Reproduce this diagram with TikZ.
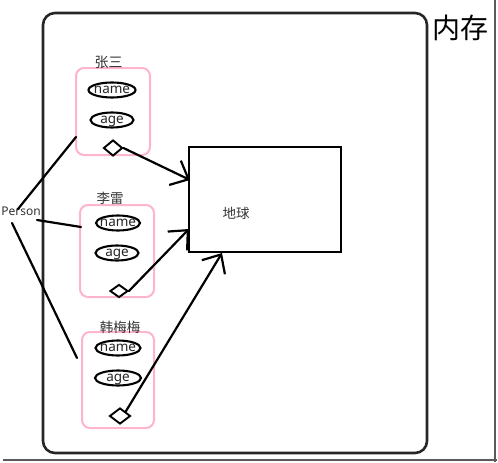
\documentclass[tikz,border=0pt]{standalone}
\usepackage{fontspec}
\setmainfont{Noto Sans}
\newfontfamily\cjk{Noto Sans CJK SC}
\usetikzlibrary{shapes.geometric,arrows.meta}
\definecolor{pinkline}{RGB}{255,180,205}
\definecolor{shadowgray}{RGB}{90,90,90}
\newcommand\ztxt[1]{\makebox[0pt]{\smash{\raisebox{-.55ex}{#1}}}}
\tikzset{
  memory/.style={draw=black!85, line width=2.6pt, rounded corners=12pt, minimum width=384pt, minimum height=440pt, inner sep=0pt},
  objbox/.style={draw=pinkline, line width=2pt, rounded corners=8pt, inner sep=0pt},
  field/.style={ellipse, draw, line width=2.1pt, inner sep=0pt, font=\fontsize{13.5pt}{15pt}\selectfont, text=black!85},
  agg/.style={diamond, draw, line width=1.9pt, inner sep=0pt, fill=white},
  earthbox/.style={draw, line width=2.3pt, minimum width=152pt, minimum height=105pt, inner sep=0pt},
  cjklabel/.style={font=\cjk\fontsize{13.5pt}{15pt}\selectfont, text=black!80, inner sep=0pt},
  conn/.style={line width=2.2pt, line cap=round},
  ref/.style={conn, -{Straight Barb[length=15pt,width=27pt,line width=2.2pt]}},
}
\begin{document}
\begin{tikzpicture}[x=1pt,y=-1pt]
\useasboundingbox (0,0) rectangle (498,463);
% screenshot shadow edges
\draw[shadowgray, line width=2.5pt] (495,0) -- (495,462);
\draw[shadowgray, line width=2.5pt] (3,460) -- (497,460);
% memory frame
\node[memory] (mem) at (235,233) {};
\node[font=\cjk\fontsize{28pt}{30pt}\selectfont, inner sep=0pt] (memlabel) at (460,28) {内存};
% person 1
\node[objbox, minimum width=74pt, minimum height=87pt] (b1) at (113,111.5) {};
\node[cjklabel, font=\cjk\fontsize{14pt}{15pt}\selectfont] (l1) at (108.5,62) {张三};
\node[field, minimum width=47pt, minimum height=15pt] (n1) at (112,90) {\ztxt{name}};
\node[field, minimum width=43pt, minimum height=15pt] (a1) at (112,120) {\ztxt{age}};
\node[agg, minimum width=19pt, minimum height=16pt] (d1) at (113,148) {};
% person 2
\node[objbox, minimum width=74pt, minimum height=92pt] (b2) at (117,251) {};
\node[cjklabel] (l2) at (110,198) {李雷};
\node[field, minimum width=44pt, minimum height=15pt] (n2) at (118,223) {\ztxt{name}};
\node[field, minimum width=43pt, minimum height=15pt] (a2) at (117,253) {\ztxt{age}};
\node[agg, minimum width=18pt, minimum height=13pt] (d2) at (119,291) {};
% person 3
\node[objbox, minimum width=72pt, minimum height=96pt] (b3) at (118,380) {};
\node[cjklabel] (l3) at (120,327) {韩梅梅};
\node[field, minimum width=45pt, minimum height=15pt] (n3) at (118,348) {\ztxt{name}};
\node[field, minimum width=46pt, minimum height=15pt] (a3) at (118,378) {\ztxt{age}};
\node[agg, minimum width=21pt, minimum height=16pt] (d3) at (120,416) {};
% earth
\node[earthbox] (earth) at (265,199.5) {};
\node[cjklabel] (el) at (236,213) {地球};
% Person
\node[font=\fontsize{12pt}{13pt}\selectfont, text=black!80, inner sep=0pt] (person) at (21,211) {Person};
\coordinate (p1) at (18,209);
\coordinate (p2) at (37,220);
\coordinate (p3) at (12,223);
\coordinate (q1) at (76,137);
\coordinate (q2) at (81,227);
\coordinate (q3) at (77,358);
\coordinate (e1) at (190,180);
\coordinate (e2) at (189,229);
\coordinate (e3) at (222,253);
\draw[conn] (p1) -- (q1);
\draw[conn] (p2) -- (q2);
\draw[conn] (p3) -- (q3);
\draw[ref] (d1.east) -- (e1);
\draw[ref] (d2.east) -- (e2);
\draw[ref] (d3.north east) -- (e3);
\end{tikzpicture}
\end{document}
